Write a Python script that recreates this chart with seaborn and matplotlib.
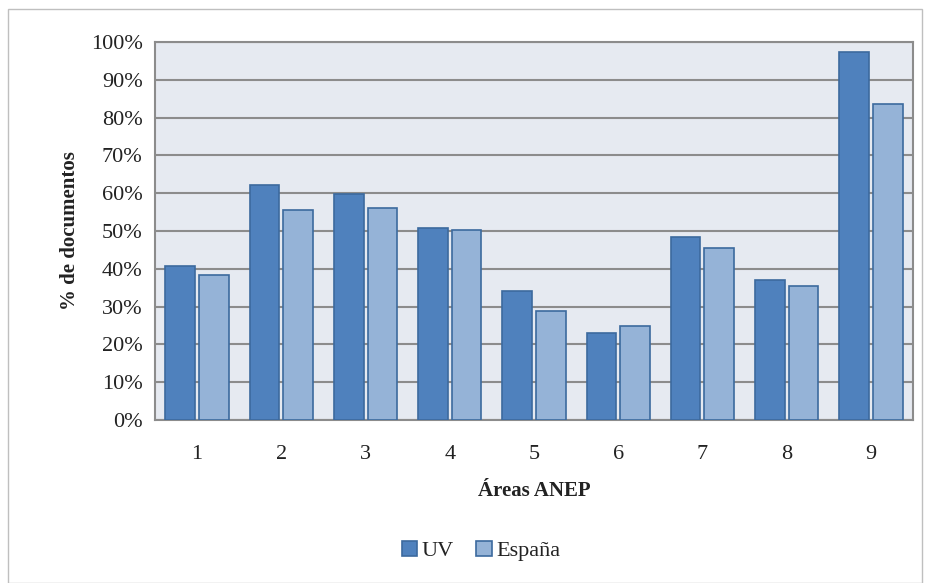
import matplotlib.pyplot as plt
import matplotlib.patches as mpatches
import pandas as pd
import seaborn as sns

# Data
areas = ["1", "2", "3", "4", "5", "6", "7", "8", "9"]
uv = [40.7, 62.2, 59.8, 50.8, 34.1, 23.0, 48.4, 37.0, 97.4]
espana = [38.4, 55.6, 56.1, 50.3, 28.8, 24.9, 45.5, 35.4, 83.6]
series = ["UV", "España"]
colors = ["#4F81BD", "#95B3D7"]
edge = "#3C6A9E"

df = pd.DataFrame({
    "area": areas * 2,
    "valor": uv + espana,
    "serie": [series[0]] * len(areas) + [series[1]] * len(areas),
})

sns.set_style("white")
plt.rcParams["font.family"] = ["Liberation Serif", "DejaVu Serif"]

fig = plt.figure(figsize=(9.3, 5.83), dpi=100)
ax = fig.add_axes([0.1667, 0.2796, 0.8150, 0.6484])
ax.set_facecolor("#E6EAF1")

sns.barplot(data=df, x="area", y="valor", hue="serie", palette=colors,
            saturation=1, width=0.8, gap=0.12, edgecolor=edge,
            linewidth=1.2, legend=False, ax=ax, zorder=3)

ax.set_ylim(0, 100)
ax.set_yticks(range(0, 101, 10))
ax.set_yticklabels([f"{v}%" for v in range(0, 101, 10)], fontsize=16,
                   color="#222222")
ax.tick_params(axis="x", labelsize=16, labelcolor="#222222", length=0,
               pad=18)
ax.tick_params(axis="y", length=5, color="#8C8C8C", pad=4)
ax.yaxis.grid(True, color="#8C8C8C", linewidth=1.5, zorder=0)
ax.set_axisbelow(True)
for s in ax.spines.values():
    s.set_color("#8C8C8C")
    s.set_linewidth(1.5)

ax.set_xlabel("Áreas ANEP", fontsize=15, fontweight="bold", labelpad=12,
              color="#222222")
ax.set_ylabel("% de documentos", fontsize=15, fontweight="bold", labelpad=8,
              color="#222222")

handles = [mpatches.Patch(facecolor=c, edgecolor=edge, linewidth=1.2, label=s)
           for c, s in zip(colors, series)]
fig.legend(handles=handles, loc="center", bbox_to_anchor=(0.517, 0.055),
           ncol=2, frameon=False, fontsize=16, handlelength=0.7,
           handleheight=0.7, handletextpad=0.2, columnspacing=1.0,
           labelcolor="#222222")

fig.patches.append(mpatches.Rectangle((0.009, 0.0), 0.982, 0.985,
                                      transform=fig.transFigure, fill=False,
                                      edgecolor="#BFBFBF", linewidth=1))

plt.savefig("out.png")
plt.close()
